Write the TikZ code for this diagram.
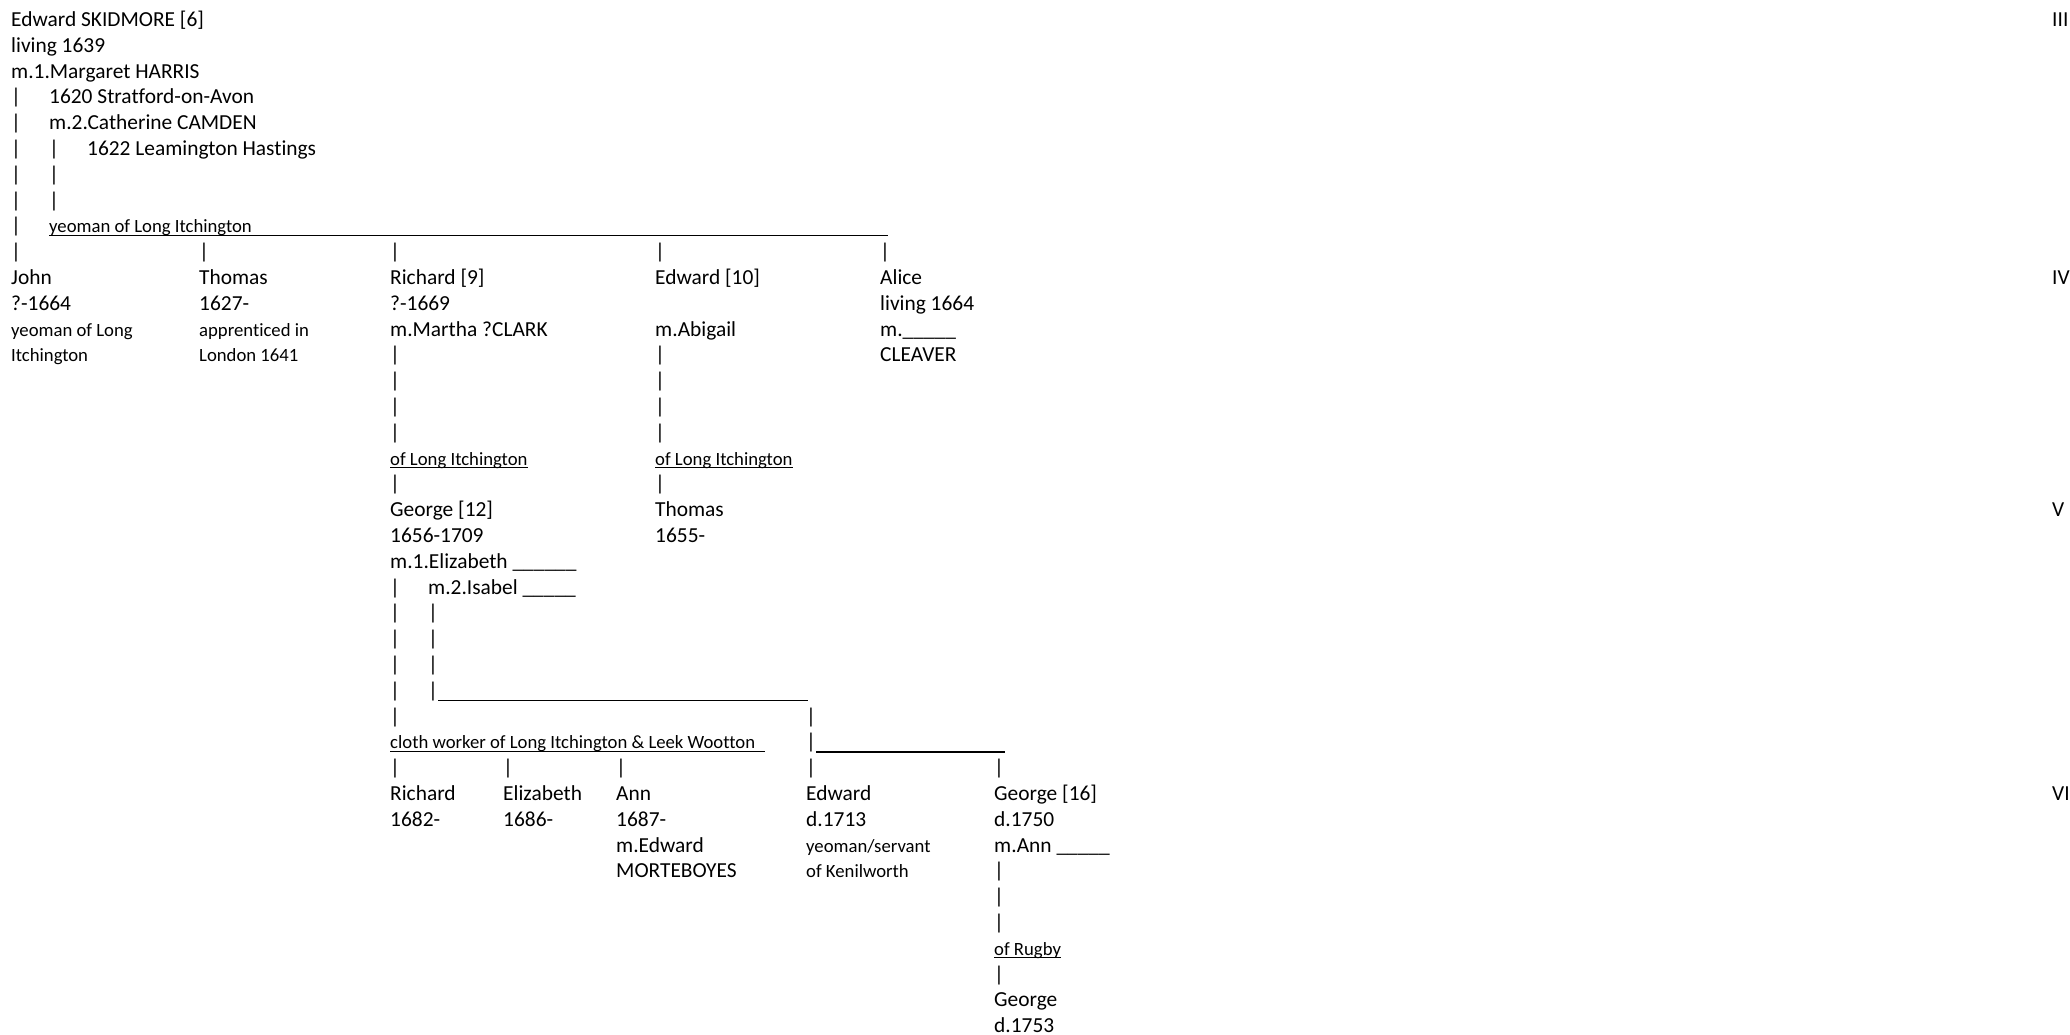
\documentclass[tikz,border=0pt]{standalone}
\usepackage{fontspec}
\setmainfont{Carlito}[Ligatures={TeX,NoCommon}]
\usetikzlibrary{positioning}

\begin{document}
\begin{tikzpicture}[x=1pt,y=-25.8pt,
    cell/.style={anchor=base west,inner sep=0pt,font=\fontsize{21.4}{25}\selectfont},
    note/.style={cell,font=\fontsize{18.7}{22}\selectfont},
    bar/.style={line width=1.2pt}]

  % page frame, rows are 25.8pt apart
  \useasboundingbox (0,{-26.5/25.8}) rectangle (2070,{1008.5/25.8});

  % generation numbers
  \foreach \g/\r in {III/0,IV/10,V/19,VI/30}
    \node[cell] (gen\g) at (2052,\r) {\g};

  % Edward SKIDMORE and his wives
  \node[cell] (edward6) at (11,0) {Edward SKIDMORE [6]};
  \node[cell] (liv1639) at (11,1) {living 1639};
  \node[cell] (harris) at (11,2) {m.1.Margaret HARRIS};
  \node[cell] (stratford) at (49,3) {1620 Stratford-on-Avon};
  \node[cell] (camden) at (49,4) {m.2.Catherine CAMDEN};
  \node[cell] (leamington) at (87,5) {1622 Leamington Hastings};
  \foreach \r in {3,...,9}
    \node[cell] (pa\r) at (11,\r) {|};
  \foreach \r in {5,6,7}
    \node[cell] (pb\r) at (49,\r) {|};

  % family bar
  \node[note] (yeoLI) at (49,8) {yeoman of Long Itchington};
  \coordinate (barIV) at (888,8);
  \draw[bar] ([yshift=-2.5pt]yeoLI.base west) -- ([yshift=-2.5pt]barIV);
  \foreach \x/\n in {199/thomas,390/richard,655/edward,880/alice}
    \node[cell] (up\n) at (\x,9) {|};

  % generation IV
  \node[cell] (john) at (11,10) {John};
  \node[cell] (john1) at (11,11) {?-1664};
  \node[note] (john2) at (11,12) {yeoman of Long};
  \node[note] (john3) at (11,13) {Itchington};

  \node[cell] (thomas) at (199,10) {Thomas};
  \node[cell] (thomas1) at (199,11) {1627-};
  \node[note] (thomas2) at (199,12) {apprenticed in};
  \node[note] (thomas3) at (199,13) {London 1641};

  \node[cell] (richard9) at (390,10) {Richard [9]};
  \node[cell] (richard1) at (390,11) {?-1669};
  \node[cell] (richard2) at (390,12) {m.Martha ?CLARK};

  \node[cell] (edward10) at (655,10) {Edward [10]};
  \node[cell] (edward2) at (655,12) {m.Abigail};

  \node[cell] (alice) at (880,10) {Alice};
  \node[cell] (alice1) at (880,11) {living 1664};
  \node[cell] (alice2) at (880,12) {m.\_\_\_\_\_};
  \node[cell] (alice3) at (880,13) {CLEAVER};

  % lines down to generation V
  \foreach \r in {13,...,16,18} {
    \node[cell] (pr\r) at (390,\r) {|};
    \node[cell] (pe\r) at (655,\r) {|};
  }
  \node[note] (ofLIr) at (390,17) {of Long Itchington};
  \node[note] (ofLIe) at (655,17) {of Long Itchington};
  \draw[bar] ([yshift=-2.5pt]ofLIr.base west) -- ([yshift=-2.5pt]ofLIr.base east);
  \draw[bar] ([yshift=-2.5pt]ofLIe.base west) -- ([yshift=-2.5pt]ofLIe.base east);

  % generation V
  \node[cell] (george12) at (390,19) {George [12]};
  \node[cell] (george1) at (390,20) {1656-1709};
  \node[cell] (george2) at (390,21) {m.1.Elizabeth \_\_\_\_\_\_};
  \node[cell] (isabel) at (428,22) {m.2.Isabel \_\_\_\_\_};

  \node[cell] (thomasV) at (655,19) {Thomas};
  \node[cell] (thomasV1) at (655,20) {1655-};

  \foreach \r in {22,...,27}
    \node[cell] (pg\r) at (390,\r) {|};
  \foreach \r in {23,...,26}
    \node[cell] (pi\r) at (428,\r) {|};

  % second marriage bar
  \coordinate (barI) at (808,26);
  \draw[bar] ([yshift=-3pt]pi26.base east) -- ([yshift=-3pt]barI);
  \node[cell] (pj27) at (806,27) {|};
  \node[cell] (pj28) at (806,28) {|};
  \coordinate (barJ) at (1005,28);
  \draw[bar] ([yshift=-3pt]pj28.base east) -- ([yshift=-3pt]barJ);

  % first marriage bar
  \node[note] (cloth) at (390,28) {cloth worker of Long Itchington \& Leek Wootton};
  \coordinate (barC) at (765,28);
  \draw[bar] ([yshift=-2.5pt]cloth.base west) -- ([yshift=-2.5pt]barC);

  \foreach \x/\n in {390/richard,503/elizabeth,616/ann,806/edward,994/george}
    \node[cell] (dn\n) at (\x,29) {|};

  % generation VI
  \node[cell] (richardVI) at (390,30) {Richard};
  \node[cell] (richardVI1) at (390,31) {1682-};
  \node[cell] (elizVI) at (503,30) {Elizabeth};
  \node[cell] (elizVI1) at (503,31) {1686-};
  \node[cell] (ann) at (616,30) {Ann};
  \node[cell] (ann1) at (616,31) {1687-};
  \node[cell] (ann2) at (616,32) {m.Edward};
  \node[cell] (ann3) at (616,33) {MORTEBOYES};
  \node[cell] (edwardVI) at (806,30) {Edward};
  \node[cell] (edwardVI1) at (806,31) {d.1713};
  \node[note] (edwardVI2) at (806,32) {yeoman/servant};
  \node[note] (edwardVI3) at (806,33) {of Kenilworth};
  \node[cell] (george16) at (994,30) {George [16]};
  \node[cell] (george161) at (994,31) {d.1750};
  \node[cell] (george162) at (994,32) {m.Ann \_\_\_\_\_};

  \foreach \r in {33,34,35,37}
    \node[cell] (pr\r) at (994,\r) {|};
  \node[note] (rugby) at (994,36) {of Rugby};
  \draw[bar] ([yshift=-2.5pt]rugby.base west) -- ([yshift=-2.5pt]rugby.base east);
  \node[cell] (georgeVII) at (994,38) {George};
  \node[cell] (georgeVII1) at (994,39) {d.1753};

\end{tikzpicture}
\end{document}
